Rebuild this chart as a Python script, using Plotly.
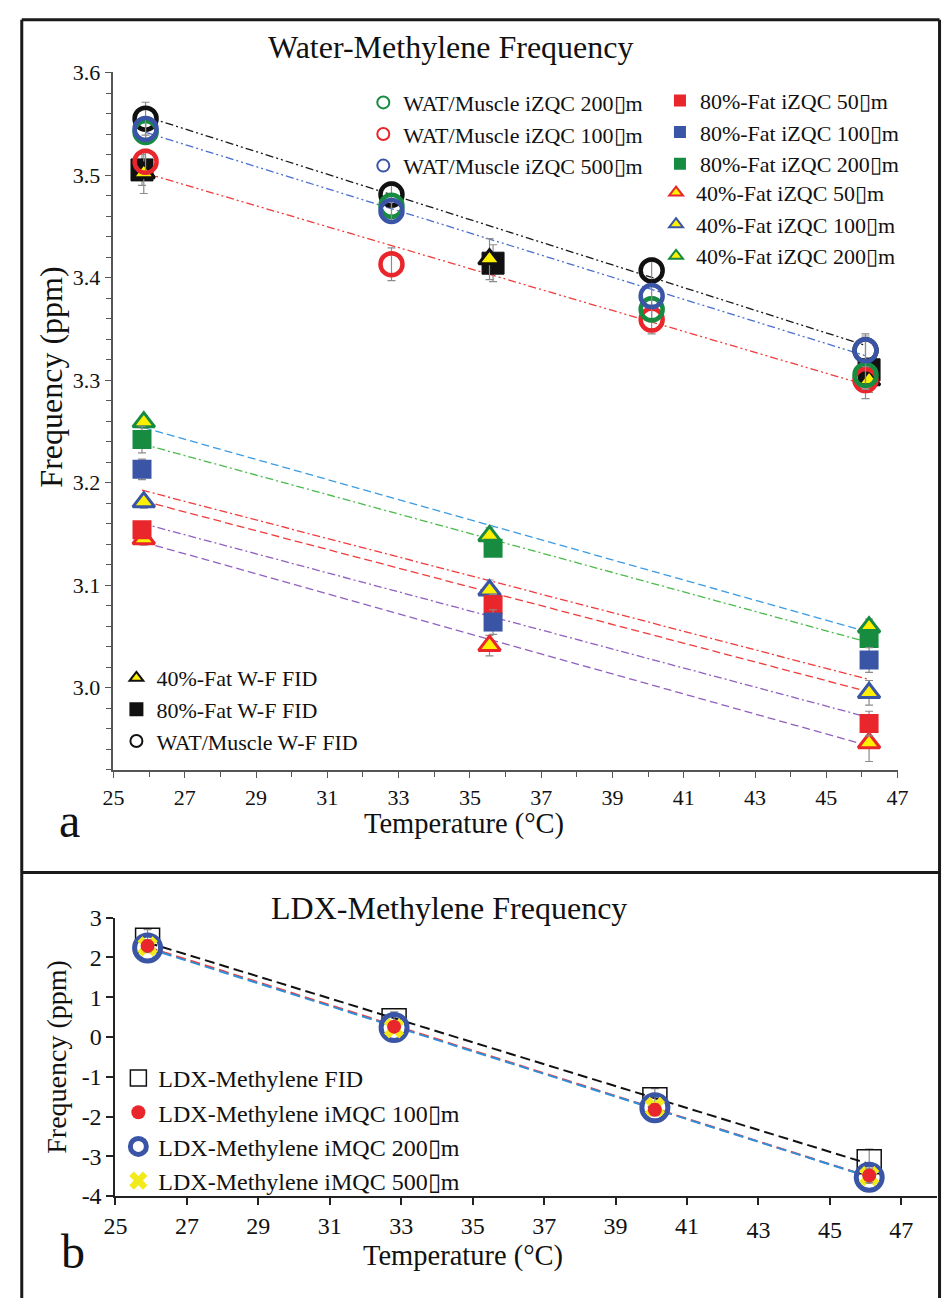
import numpy as np
import plotly.graph_objects as go

W, H = 952, 1311
UM = "\u25afm"

# ---------------- Panel a data ----------------
T_wat = [25.9, 32.8, 40.1, 46.1]
wat_fid = [3.555, 3.481, 3.407, 3.329]
wat_fid_err = [0.016, 0.012, 0.012, 0.014]
wat_100 = [3.513, 3.413, 3.359, 3.300]
wat_100_err = [0.012, 0.016, 0.014, 0.018]
wat_200 = [3.542, 3.470, 3.369, 3.305]
wat_200_err = [0.010, 0.010, 0.012, 0.014]
wat_500 = [3.545, 3.465, 3.382, 3.329]
wat_500_err = [0.010, 0.010, 0.012, 0.016]

T_fat40 = [25.85, 35.55, 46.2]
T_fat80 = [25.8, 35.65, 46.2]
fat40_fid = [3.502, 3.418, 3.300]
fat40_fid_err = [0.020, 0.020, 0.012]
fat80_fid = [3.505, 3.414, 3.310]
fat80_fid_err = [0.015, 0.018, 0.012]
fat40_50 = [3.145, 3.041, 2.946]
fat40_50_err = [0.006, 0.010, 0.018]
fat40_100 = [3.181, 3.095, 2.995]
fat40_100_err = [0.006, 0.010, 0.012]
fat40_200 = [3.259, 3.148, 3.059]
fat40_200_err = [0.006, 0.008, 0.008]
fat80_50 = [3.154, 3.081, 2.965]
fat80_50_err = [0.006, 0.010, 0.012]
fat80_100 = [3.213, 3.064, 3.027]
fat80_100_err = [0.010, 0.012, 0.012]
fat80_200 = [3.242, 3.136, 3.048]
fat80_200_err = [0.013, 0.008, 0.008]

# ---------------- Panel b data ----------------
T_ldx = [25.9, 32.8, 40.1, 46.1]
ldx_fid = [2.43, 0.41, -1.58, -3.14]
ldx_fid_err = [0.27, 0.22, 0.28, 0.32]
ldx_100 = [2.29, 0.26, -1.83, -3.48]
ldx_100_err = [0.15, 0.12, 0.15, 0.18]
ldx_200 = [2.24, 0.24, -1.78, -3.53]
ldx_200_err = [0.12, 0.12, 0.12, 0.15]
ldx_500 = [2.28, 0.22, -1.76, -3.50]
ldx_500_err = [0.12, 0.12, 0.12, 0.15]

# tick labels
xt_a = list(range(25, 48, 2))
xt_b_upper = [25, 27, 29, 31, 33, 35, 37, 39, 41]
xt_b_lower = [43, 45, 47]
yt_b = [-4, -3, -2, -1, 0, 1, 2, 3]

# ---------------- style ----------------
FONT = "Liberation Serif, Times New Roman, serif"
RED = "#e8262b"
BLUE = "#3a55a5"
GREEN = "#178c40"
YELLOW = "#fff000"
ERR = "#8c8c8c"
DASH = "8px,4px"
DASHDOT = "8px,3px,2px,3px"
DASHDOTDOT = "8px,3px,2px,3px,2px,3px"


def px(x):
    return x / W


def py(y):
    return 1 - y / H


fig = go.Figure()


def fit_line(xs, ys, color, dash, xa="x", ya="y", width=1.3):
    k, b = np.polyfit(xs, ys, 1)
    xx = np.array([min(xs), max(xs)])
    fig.add_trace(go.Scatter(x=xx, y=k * xx + b, mode="lines", xaxis=xa, yaxis=ya,
                             line=dict(color=color, dash=dash, width=width),
                             showlegend=False, hoverinfo="skip"))


def pts(xs, ys, err, name, symbol, size, color, line_color, line_w, legend, rank,
        xa="x", ya="y"):
    fig.add_trace(go.Scatter(
        x=xs, y=ys, mode="markers", name=name, xaxis=xa, yaxis=ya,
        legend=legend, legendrank=rank,
        marker=dict(symbol=symbol, size=size, color=color,
                    line=dict(color=line_color, width=line_w)),
        error_y=dict(type="data", array=err, color=ERR, thickness=1.2, width=4),
    ))


# ---- Panel a fit lines ----
fit_line(T_wat, wat_fid, "#1a1a1a", DASHDOTDOT)
fit_line(T_wat, wat_500, "#4a6fcf", DASHDOTDOT)
fit_line(T_wat, wat_100, "#f03c3c", DASHDOTDOT)
fit_line(T_fat40, fat40_200, "#3b9be3", DASH)
fit_line(T_fat80, fat80_200, "#4cbb4c", DASHDOT)
fit_line(T_fat80, fat80_100, "#f03c3c", DASHDOT)
fit_line(T_fat40, fat40_100, "#f03c3c", DASH)
fit_line(T_fat80, fat80_50, "#9160c0", DASHDOT)
fit_line(T_fat40, fat40_50, "#9160c0", DASH)

# ---- Panel a markers ----
pts(T_fat80, fat80_fid, fat80_fid_err, "80%-Fat W-F FID", "square", 22, "#111", "#111", 1, "legend4", 2)
pts(T_fat40, fat40_fid, fat40_fid_err, "40%-Fat W-F FID", "triangle-up", 19, YELLOW, "#111", 3, "legend4", 1)
pts(T_wat, wat_fid, wat_fid_err, "WAT/Muscle W-F FID", "circle-open", 22, "#111", "#111", 4.5, "legend4", 3)

pts(T_fat40, fat40_200, fat40_200_err, "40%-Fat iZQC 200" + UM, "triangle-up", 19, YELLOW, GREEN, 3, "legend3", 3)
pts(T_fat40, fat40_100, fat40_100_err, "40%-Fat iZQC 100" + UM, "triangle-up", 19, YELLOW, BLUE, 3, "legend3", 2)
pts(T_fat40, fat40_50, fat40_50_err, "40%-Fat iZQC 50" + UM, "triangle-up", 19, YELLOW, RED, 3, "legend3", 1)

pts(T_fat80, fat80_200, fat80_200_err, "80%-Fat iZQC 200" + UM, "square", 19, GREEN, GREEN, 0, "legend2", 3)
pts(T_fat80, fat80_50, fat80_50_err, "80%-Fat iZQC 50" + UM, "square", 19, RED, RED, 0, "legend2", 1)
pts(T_fat80, fat80_100, fat80_100_err, "80%-Fat iZQC 100" + UM, "square", 19, BLUE, BLUE, 0, "legend2", 2)

pts(T_wat, wat_100, wat_100_err, "WAT/Muscle iZQC 100" + UM, "circle-open", 22, RED, RED, 4.5, "legend", 2)
pts(T_wat, wat_200, wat_200_err, "WAT/Muscle iZQC 200" + UM, "circle-open", 22, GREEN, GREEN, 4.5, "legend", 1)
pts(T_wat, wat_500, wat_500_err, "WAT/Muscle iZQC 500" + UM, "circle-open", 22, BLUE, BLUE, 4.5, "legend", 3)

# ---- Panel b ----
fit_line(T_ldx, ldx_fid, "#111", "10px,5px", "x2", "y2", 2)
fit_line(T_ldx, ldx_100, "#f03c3c", "10px,5px", "x2", "y2", 2)
fit_line(T_ldx, ldx_200, "#2f8fd8", "10px,5px", "x2", "y2", 2)

pts(T_ldx, ldx_fid, ldx_fid_err, "LDX-Methylene FID", "square-open", 24, "#111", "#111", 1.5, "legend5", 1, "x2", "y2")
pts(T_ldx, ldx_200, ldx_200_err, "LDX-Methylene iMQC 200" + UM, "circle-open", 26, BLUE, BLUE, 5, "legend5", 3, "x2", "y2")
pts(T_ldx, ldx_500, ldx_500_err, "LDX-Methylene iMQC 500" + UM, "x", 18, "#f2ea1a", "#f2ea1a", 0, "legend5", 4, "x2", "y2")
pts(T_ldx, ldx_100, ldx_100_err, "LDX-Methylene iMQC 100" + UM, "circle", 14, RED, RED, 0, "legend5", 2, "x2", "y2")

# invisible carrier so that the secondary x axis (lowered tick labels) is drawn
fig.add_trace(go.Scatter(x=xt_b_lower, y=[None] * len(xt_b_lower), mode="markers",
                         xaxis="x3", yaxis="y2", showlegend=False, hoverinfo="skip"))

# ---------------- layout ----------------
axis_a = dict(showline=True, linecolor="#555", linewidth=1.5, showgrid=False, zeroline=False,
              ticks="outside", ticklen=7, tickcolor="#555", tickwidth=1.2,
              tickfont=dict(family=FONT, size=22, color="#111"))
axis_b = dict(showline=True, linecolor="#222", linewidth=2, showgrid=False, zeroline=False,
              ticks="outside", ticklen=7, tickcolor="#222", tickwidth=1.5,
              tickfont=dict(family=FONT, size=24, color="#111"))

fig.update_layout(
    width=W, height=H, margin=dict(l=0, r=0, t=0, b=0),
    paper_bgcolor="white", plot_bgcolor="white",
    font=dict(family=FONT, color="#111"),
    xaxis=dict(axis_a, domain=[px(104), px(907.5)], range=[25, 47], tickvals=xt_a,
               anchor="y", minor=dict(dtick=1, ticks="outside", ticklen=6, tickcolor="#555")),
    yaxis=dict(axis_a, domain=[py(772), py(60.7)], range=[2.92, 3.6], tick0=3.0, dtick=0.1,
               tickformat=".1f", anchor="x",
               minor=dict(dtick=0.02, ticks="outside", ticklen=6, tickcolor="#555")),
    xaxis2=dict(axis_b, domain=[px(106), px(948)], range=[25, 48],
                tickvals=xt_b_upper + xt_b_lower,
                ticktext=[str(v) for v in xt_b_upper] + ["" for _ in xt_b_lower],
                anchor="y2"),
    xaxis3=dict(axis_b, overlaying="x2", anchor="y2", side="bottom", range=[25, 48],
                showline=False, ticks="", tickvals=xt_b_lower,
                ticktext=[str(v) for v in xt_b_lower], ticklabelstandoff=17),
    yaxis2=dict(axis_b, domain=[py(1207), py(923)], range=[-4, 3], tickvals=yt_b,
                ticktext=[str(v) for v in yt_b], anchor="x2"),
)

leg_common = dict(bgcolor="rgba(0,0,0,0)", borderwidth=0, xanchor="left", yanchor="top",
                  traceorder="normal", itemsizing="constant")
LF = dict(family=FONT, size=22, color="#111")
fig.update_layout(
    legend=dict(leg_common, x=px(360), y=py(70), font=LF),
    legend2=dict(leg_common, x=px(664), y=py(68), font=LF),
    legend3=dict(leg_common, x=px(660), y=py(162), font=LF),
    legend4=dict(leg_common, x=px(107), y=py(657), font=LF),
    legend5=dict(leg_common, x=px(109), y=py(1064), itemsizing="trace",
                 font=dict(family=FONT, size=24, color="#111")),
)

ann = []


def text(x, y, s, size, angle=0):
    ann.append(dict(x=px(x), y=py(y), xref="paper", yref="paper", text=s, showarrow=False,
                    xanchor="center", yanchor="middle", textangle=angle,
                    font=dict(family=FONT, size=size, color="#111")))


text(450, 35, "Water-Methylene Frequency", 32)
text(463, 827, "Temperature (°C)", 28.5)
text(40, 372, "Frequency (ppm)", 32, -90)
text(59, 824, "a", 48)
text(448, 913, "LDX-Methylene Frequency", 32)
text(462, 1268, "Temperature (°C)", 28.5)
text(46, 1065, "Frequency (ppm)", 28, -90)
text(62, 1264, "b", 48)
fig.update_layout(annotations=ann)

# frame
line = dict(color="#1a1a1a", width=3)
fig.update_layout(shapes=[
    dict(type="line", xref="paper", yref="paper", x0=px(10), x1=px(10), y0=py(7), y1=0, line=line),
    dict(type="line", xref="paper", yref="paper", x0=px(10), x1=px(950.5), y0=py(7), y1=py(7), line=line),
    dict(type="line", xref="paper", yref="paper", x0=px(950.5), x1=px(950.5), y0=py(7), y1=0, line=line),
    dict(type="line", xref="paper", yref="paper", x0=px(10), x1=px(950.5), y0=py(877), y1=py(877), line=line),
])

fig.write_html("out.html", config={"displayModeBar": False},
               post_script="document.body.style.margin='0px';")
